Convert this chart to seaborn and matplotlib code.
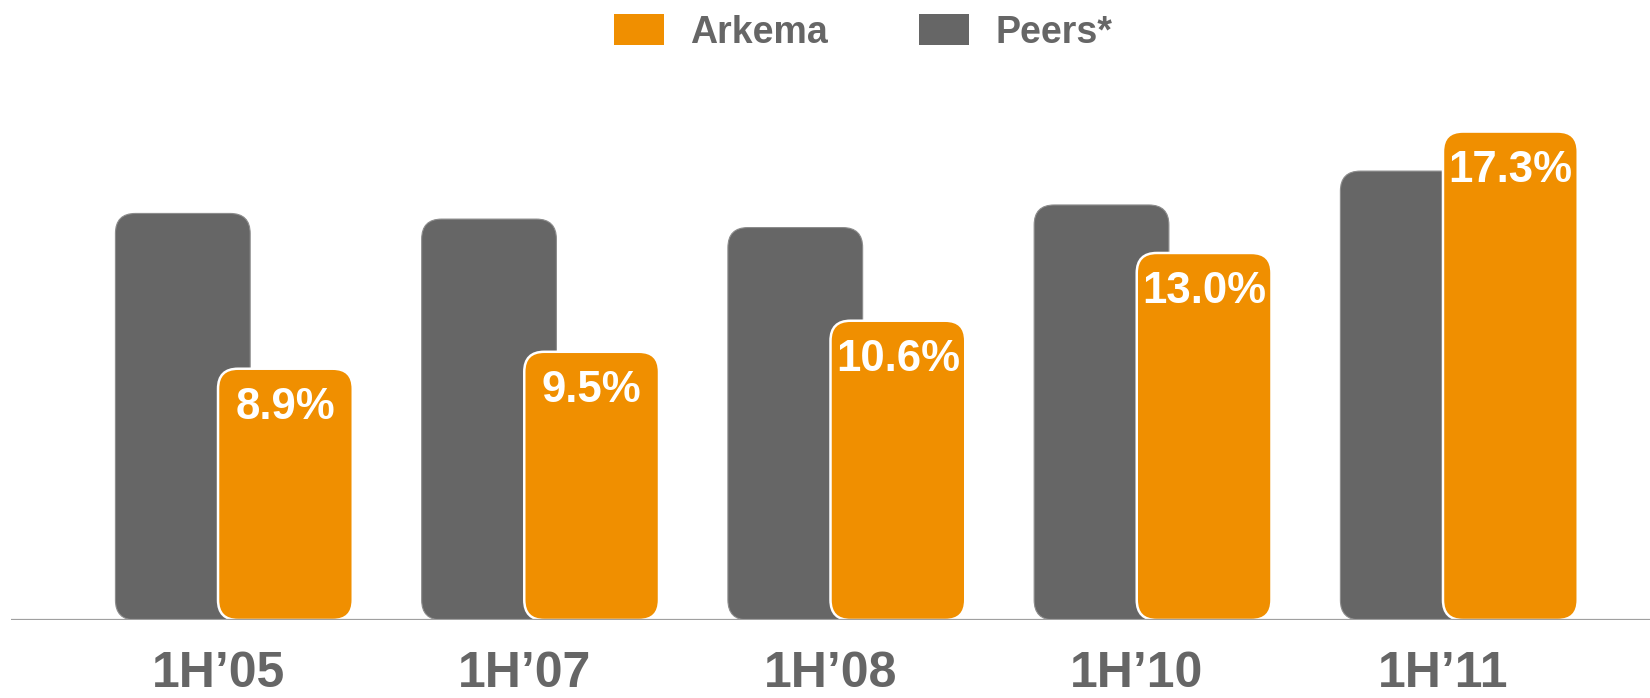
import pandas as pd
import matplotlib
matplotlib.use("Agg")
import matplotlib.pyplot as plt
import seaborn as sns
from matplotlib.patches import FancyBboxPatch, Patch

# Données
periods = ["1H\u201905", "1H\u201907", "1H\u201908", "1H\u201910", "1H\u201911"]
arkema = [8.9, 9.5, 10.6, 13.0, 17.3]
peers = [14.4, 14.2, 13.9, 14.7, 15.9]
arkema_labels = ["8.9%", "9.5%", "10.6%", "13.0%", "17.3%"]

ORANGE = "#F08F00"
GREY = "#666666"
TEXT_GREY = "#666666"

df = pd.DataFrame({
    "period": periods * 2,
    "value": peers + arkema,
    "company": ["Peers*"] * len(periods) + ["Arkema"] * len(periods),
})

sns.set_style("white")
plt.rcParams["font.family"] = ["Liberation Sans", "DejaVu Sans"]

fig = plt.figure(figsize=(16.5, 6.98), dpi=100)
ax = fig.add_axes([11 / 1650, 78 / 698, 1 - 11 / 1650, 620 / 698])

sns.barplot(data=df, x="period", y="value", hue="company",
            hue_order=["Peers*", "Arkema"],
            palette={"Peers*": GREY, "Arkema": ORANGE},
            width=0.88, dodge=True, legend=False, ax=ax)

ax.set_xlim(-0.676, 4.676)
ax.set_ylim(0, 21.96)

# conversion px -> unités de données pour les coins arrondis
p0 = ax.transData.transform((0, 0))
p1 = ax.transData.transform((1, 1))
px_x = p1[0] - p0[0]
px_y = p1[1] - p0[1]
radius_px = 20
r_x = radius_px / px_x
aspect = (radius_px / px_y) / r_x

# remplacement des barres par des rectangles arrondis
for container, name in zip(ax.containers, ["Peers*", "Arkema"]):
    for rect in container:
        x, w, h = rect.get_x(), rect.get_width(), rect.get_height()
        rect.set_visible(False)
        if name == "Peers*":
            x = x + 0.105
            fc, ec, lw, z = GREY, "#8c8c8c", 0.8, 2
        else:
            fc, ec, lw, z = ORANGE, "white", 1.8, 3
        box = FancyBboxPatch((x, 0), w, h,
                             boxstyle=f"round,pad=0,rounding_size={r_x}",
                             mutation_aspect=aspect,
                             facecolor=fc, edgecolor=ec, linewidth=lw, zorder=z)
        ax.add_patch(box)

# étiquettes de valeur
for rect, lab in zip(ax.containers[1], arkema_labels):
    cx = rect.get_x() + rect.get_width() / 2
    ax.annotate(lab, (cx, rect.get_height()), xytext=(0, -13),
                textcoords="offset points", ha="center", va="top",
                fontsize=31.5, fontweight="bold", color="white", zorder=5)

ax.axhline(0, color="#A0A0A0", linewidth=1.6, zorder=6)

sns.despine(ax=ax, left=True, bottom=True, top=True, right=True)
ax.set_yticks([])
ax.set_xlabel("")
ax.set_ylabel("")
ax.tick_params(axis="x", length=0, pad=22)
for t in ax.get_xticklabels():
    t.set_fontsize(36)
    t.set_fontweight("bold")
    t.set_color(TEXT_GREY)

handles = [Patch(facecolor=ORANGE, edgecolor="none", label="Arkema"),
           Patch(facecolor=GREY, edgecolor="none", label="Peers*")]
leg = fig.legend(handles=handles, loc="center", bbox_to_anchor=(0.523, 1 - 32.5 / 698),
                 ncol=2, frameon=False, handlelength=1.33, handleheight=0.88,
                 handletextpad=0.69, columnspacing=2.45, borderaxespad=0,
                 prop={"size": 27, "weight": "bold"})
for t in leg.get_texts():
    t.set_color(TEXT_GREY)

fig.savefig("out.png", dpi=100)
